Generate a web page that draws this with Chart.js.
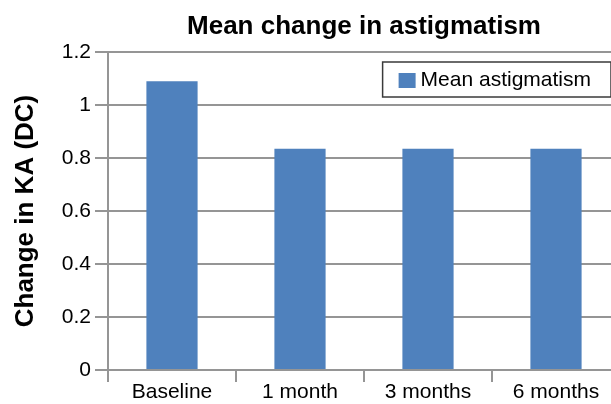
<!DOCTYPE html>
<html>
<head>
<meta charset="utf-8">
<script src="https://cdn.jsdelivr.net/npm/chart.js@4.4.1/dist/chart.umd.min.js"></script>
<style>
  html, body { margin: 0; padding: 0; background: #fff; overflow: hidden; }
  #wrap { width: 620px; height: 404px; }
</style>
</head>
<body>
<div id="wrap"><canvas id="myChart" width="620" height="404"></canvas></div>
<script>
const categories = ['Baseline', '1 month', '3 months', '6 months'];
const meanAstigmatism = [1.09, 0.835, 0.835, 0.835];
const yTickLabels = ['0', '0.2', '0.4', '0.6', '0.8', '1', '1.2'];

const gridColor = '#959595';
const fontFamily = '"Liberation Sans", Arial, sans-serif';

// boxed legend sitting in the top-right corner of the plot
const boxedLegend = {
    id: 'boxedLegend',
    afterDraw(chart) {
        const ctx = chart.ctx;
        const ds = chart.data.datasets[0];
        const area = chart.chartArea;
        ctx.save();
        ctx.font = '21px ' + fontFamily;
        const textW = ctx.measureText(ds.label).width;
        const boxH = 35;
        const boxR = area.right - 9;
        const boxL = boxR - (16 + 17 + 5 + textW + 20);
        const boxT = area.top + 10;
        ctx.fillStyle = '#fff';
        ctx.fillRect(boxL, boxT, boxR - boxL, boxH);
        ctx.strokeStyle = '#3a3a3a';
        ctx.lineWidth = 1.5;
        ctx.strokeRect(boxL, boxT, boxR - boxL, boxH);
        ctx.fillStyle = ds.backgroundColor;
        ctx.fillRect(boxL + 16, boxT + 11, 17, 15);
        ctx.fillStyle = '#000';
        ctx.textBaseline = 'middle';
        ctx.fillText(ds.label, boxL + 16 + 17 + 5, boxT + boxH / 2 + 1);
        ctx.restore();
    }
};

const ctx = document.getElementById('myChart').getContext('2d');
new Chart(ctx, {
    type: 'bar',
    data: {
        labels: categories,
        datasets: [{
            label: 'Mean astigmatism',
            data: meanAstigmatism,
            backgroundColor: '#4F81BD',
            barPercentage: 0.4,
            categoryPercentage: 1.0,
        }]
    },
    options: {
        responsive: false,
        animation: false,
        layout: { padding: 0 },
        scales: {
            x: {
                offset: true,
                grid: {
                    offset: true,
                    drawOnChartArea: false,
                    tickLength: 12,
                    color: gridColor,
                    lineWidth: 2,
                },
                border: { color: gridColor, width: 2 },
                ticks: {
                    color: '#000',
                    padding: -2,
                    maxRotation: 0,
                    font: { family: fontFamily, size: 21 },
                },
                afterFit(scale) { scale.height = 34; },
            },
            y: {
                min: 0,
                max: 1.2,
                ticks: {
                    stepSize: 0.2,
                    color: '#000',
                    padding: 4,
                    font: { family: fontFamily, size: 21 },
                    callback: (v) => yTickLabels[Math.round(v / 0.2)],
                },
                grid: {
                    color: gridColor,
                    lineWidth: 2,
                    tickLength: 13,
                },
                border: { color: gridColor, width: 2 },
                title: {
                    display: true,
                    text: 'Change in KA (DC)',
                    color: '#000',
                    padding: { top: 10, bottom: 0 },
                    font: { family: fontFamily, size: 26, weight: 'bold' },
                },
                afterFit(scale) { scale.width = 108; },
            }
        },
        plugins: {
            legend: { display: false },
            tooltip: { enabled: false },
            title: {
                display: true,
                text: 'Mean change in astigmatism',
                color: '#000',
                fullSize: false,
                padding: { top: 11.4, bottom: 9.4 },
                font: { family: fontFamily, size: 26, weight: 'bold' },
            }
        }
    },
    plugins: [boxedLegend]
});
</script>
</body>
</html>
